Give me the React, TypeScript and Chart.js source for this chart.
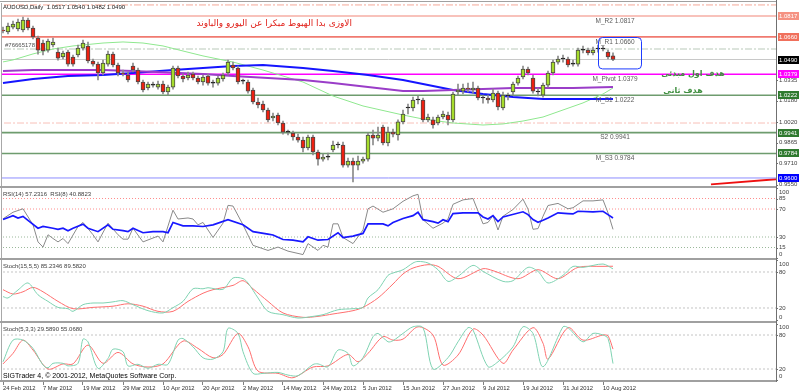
import React, { useEffect, useRef } from 'react';
import { Chart, registerables } from 'chart.js';

Chart.register(...registerables);

// ---------------- DATA ----------------
const dateLabels = ['24 Feb 2012', '7 Mar 2012', '19 Mar 2012', '29 Mar 2012', '10 Apr 2012', '20 Apr 2012', '2 May 2012', '14 May 2012', '24 May 2012', '5 Jun 2012', '15 Jun 2012', '27 Jun 2012', '9 Jul 2012', '19 Jul 2012', '31 Jul 2012', '10 Aug 2012'];
const dateLabelStep = 8;

const opens = [1.0712, 1.0697, 1.0734, 1.0719, 1.0712, 1.0787, 1.0727, 1.0652, 1.0614, 1.0561, 1.0599, 1.0546, 1.0509, 1.0546, 1.0509, 1.0524, 1.0576, 1.0591, 1.0479, 1.0456, 1.0389, 1.0456, 1.0531, 1.0449, 1.0389, 1.0374, 1.0441, 1.0411, 1.0321, 1.0276, 1.0298, 1.0283, 1.0306, 1.0246, 1.0283, 1.0426, 1.0366, 1.0351, 1.0381, 1.0351, 1.0321, 1.0366, 1.0313, 1.0313, 1.0344, 1.0389, 1.0449, 1.0426, 1.0328, 1.0321, 1.0261, 1.0171, 1.0156, 1.0111, 1.0051, 1.0073, 1.0013, 0.9945, 0.9938, 0.9908, 0.9885, 0.9825, 0.9908, 0.9795, 0.9742, 0.9757, 0.9810, 0.9848, 0.9848, 0.9697, 0.9727, 0.9697, 0.9727, 0.9742, 0.9923, 0.9900, 0.9983, 0.9863, 0.9945, 0.9923, 1.0021, 1.0126, 1.0126, 1.0186, 1.0186, 1.0036, 1.0036, 1.0013, 1.0058, 1.0073, 1.0036, 1.0246, 1.0253, 1.0276, 1.0261, 1.0276, 1.0201, 1.0201, 1.0186, 1.0238, 1.0126, 1.0216, 1.0246, 1.0313, 1.0359, 1.0419, 1.0351, 1.0246, 1.0223, 1.0298, 1.0389, 1.0471, 1.0494, 1.0494, 1.0456, 1.0456, 1.0561, 1.0561, 1.0539, 1.0569, 1.0569, 1.0546, 1.0517];
const highs = [1.0734, 1.0764, 1.0779, 1.0794, 1.0809, 1.0802, 1.0742, 1.0667, 1.0636, 1.0644, 1.0652, 1.0576, 1.0554, 1.0561, 1.0524, 1.0599, 1.0636, 1.0621, 1.0494, 1.0471, 1.0486, 1.0554, 1.0546, 1.0464, 1.0411, 1.0396, 1.0464, 1.0426, 1.0336, 1.0321, 1.0321, 1.0328, 1.0328, 1.0298, 1.0441, 1.0441, 1.0381, 1.0396, 1.0396, 1.0366, 1.0374, 1.0381, 1.0336, 1.0366, 1.0389, 1.0486, 1.0471, 1.0441, 1.0344, 1.0336, 1.0276, 1.0201, 1.0178, 1.0126, 1.0088, 1.0088, 1.0028, 0.9960, 0.9953, 0.9930, 0.9908, 0.9923, 0.9923, 0.9810, 0.9780, 0.9788, 0.9878, 0.9870, 0.9870, 0.9750, 0.9750, 0.9765, 0.9757, 0.9938, 0.9960, 0.9983, 0.9998, 0.9983, 0.9968, 1.0036, 1.0111, 1.0156, 1.0208, 1.0216, 1.0201, 1.0081, 1.0058, 1.0073, 1.0103, 1.0096, 1.0246, 1.0306, 1.0306, 1.0313, 1.0321, 1.0291, 1.0223, 1.0223, 1.0268, 1.0253, 1.0246, 1.0238, 1.0321, 1.0366, 1.0441, 1.0434, 1.0374, 1.0276, 1.0313, 1.0404, 1.0486, 1.0516, 1.0524, 1.0509, 1.0486, 1.0576, 1.0591, 1.0576, 1.0584, 1.0599, 1.0591, 1.0561, 1.0540];
const lows = [1.0689, 1.0682, 1.0719, 1.0704, 1.0697, 1.0712, 1.0644, 1.0531, 1.0524, 1.0546, 1.0584, 1.0486, 1.0494, 1.0441, 1.0441, 1.0509, 1.0561, 1.0464, 1.0441, 1.0336, 1.0374, 1.0441, 1.0434, 1.0366, 1.0366, 1.0321, 1.0396, 1.0306, 1.0246, 1.0261, 1.0283, 1.0268, 1.0231, 1.0223, 1.0268, 1.0351, 1.0321, 1.0336, 1.0336, 1.0306, 1.0298, 1.0298, 1.0283, 1.0298, 1.0328, 1.0374, 1.0411, 1.0306, 1.0306, 1.0238, 1.0156, 1.0126, 1.0096, 1.0021, 1.0028, 0.9998, 0.9930, 0.9923, 0.9885, 0.9870, 0.9795, 0.9810, 0.9773, 0.9697, 0.9727, 0.9735, 0.9795, 0.9825, 0.9682, 0.9682, 0.9570, 0.9660, 0.9712, 0.9727, 0.9848, 0.9878, 0.9848, 0.9840, 0.9908, 0.9885, 1.0006, 1.0081, 1.0103, 1.0156, 1.0021, 1.0021, 0.9975, 0.9998, 1.0043, 0.9998, 1.0021, 1.0223, 1.0231, 1.0246, 1.0238, 1.0186, 1.0163, 1.0163, 1.0171, 1.0111, 1.0111, 1.0186, 1.0223, 1.0298, 1.0344, 1.0374, 1.0238, 1.0216, 1.0208, 1.0283, 1.0374, 1.0456, 1.0471, 1.0434, 1.0441, 1.0441, 1.0539, 1.0524, 1.0524, 1.0546, 1.0554, 1.0494, 1.0482];
const closes = [1.0704, 1.0742, 1.0757, 1.0772, 1.0787, 1.0727, 1.0659, 1.0561, 1.0554, 1.0629, 1.0621, 1.0501, 1.0539, 1.0456, 1.0456, 1.0576, 1.0614, 1.0479, 1.0456, 1.0389, 1.0464, 1.0531, 1.0449, 1.0389, 1.0381, 1.0336, 1.0411, 1.0321, 1.0261, 1.0306, 1.0298, 1.0306, 1.0246, 1.0283, 1.0426, 1.0366, 1.0344, 1.0374, 1.0351, 1.0321, 1.0359, 1.0313, 1.0313, 1.0351, 1.0374, 1.0471, 1.0426, 1.0321, 1.0328, 1.0253, 1.0171, 1.0148, 1.0111, 1.0036, 1.0066, 1.0013, 0.9945, 0.9945, 0.9908, 0.9885, 0.9825, 0.9908, 0.9795, 0.9742, 0.9757, 0.9757, 0.9848, 0.9848, 0.9697, 0.9727, 0.9697, 0.9727, 0.9742, 0.9923, 0.9900, 0.9923, 0.9863, 0.9945, 0.9930, 1.0021, 1.0081, 1.0126, 1.0186, 1.0186, 1.0036, 1.0058, 0.9998, 1.0058, 1.0081, 1.0036, 1.0231, 1.0261, 1.0276, 1.0268, 1.0276, 1.0201, 1.0201, 1.0186, 1.0238, 1.0133, 1.0223, 1.0216, 1.0306, 1.0351, 1.0419, 1.0389, 1.0253, 1.0246, 1.0298, 1.0389, 1.0471, 1.0494, 1.0494, 1.0449, 1.0456, 1.0561, 1.0561, 1.0539, 1.0561, 1.0569, 1.0569, 1.0509, 1.0490];

// moving averages: [bar index, price]
const greenMA: [number, number][] = [[0, 1.0472], [2, 1.0487], [6, 1.0532], [10, 1.0569], [14, 1.0592], [20, 1.0614], [24, 1.0622], [28, 1.0614], [32, 1.0592], [36, 1.0554], [40, 1.0517], [46, 1.0471], [52, 1.0411], [60, 1.0321], [66, 1.0216], [72, 1.0141], [80, 1.0073], [84, 1.0043], [90, 1.0013], [96, 0.9998], [100, 1.0006], [104, 1.0028], [108, 1.0058], [112, 1.0111], [116, 1.0164], [120, 1.0231], [122, 1.0276]];
const blueMA: [number, number][] = [[0, 1.0314], [6, 1.0344], [13, 1.0366], [20, 1.0374], [26, 1.0389], [34, 1.0411], [40, 1.0426], [46, 1.0441], [52, 1.0449], [60, 1.0426], [66, 1.0404], [73, 1.0374], [80, 1.0336], [84, 1.0306], [90, 1.0261], [96, 1.0231], [102, 1.0208], [108, 1.0194], [122, 1.0194]];
const purpleMA: [number, number][] = [[0, 1.0404], [6, 1.0411], [20, 1.0411], [26, 1.0404], [40, 1.0381], [46, 1.0366], [53, 1.0351], [60, 1.0336], [66, 1.0314], [73, 1.0284], [80, 1.0254], [84, 1.0254], [90, 1.0261], [96, 1.0269], [102, 1.0276], [108, 1.0276], [114, 1.0276], [122, 1.0284]];
const redTrend: [number, number][] = [[141.6, 0.9552], [156, 0.9595]];

// pivot levels
const levelNames = ['M_R2', 'M_R1', 'M_Pivot', 'M_S1', 'S2', 'M_S3'];
const levelValues = [1.0817, 1.0660, 1.0379, 1.0222, 0.9941, 0.9784];
const levelColors = ['#f6aea5', '#f07a70', '#ff00ff', '#6e9c6e', '#6e9c6e', '#6e9c6e'];
const currentPrice = 1.0490;
const supportLine = 0.9600;
const dashDotLevels = [1.0900, 1.0569, 1.0013];
const dashDotColors = ['#f4a898', '#b9c9b9', '#f8c0b8'];

// right-axis price tags
const tagValues = [1.0817, 1.0660, 1.0490, 1.0379, 1.0222, 0.9941, 0.9784, 0.9600];
const tagColors = ['#f59282', '#f0705c', '#000000', '#ff00ff', '#2f7a2f', '#2f7a2f', '#2f7a2f', '#0000ff'];

const mainTicks = [1.0335, 1.0180, 1.0020, 0.9865, 0.9710, 0.9550];
const rsiTicks = [100, 85, 70, 30, 15, 0];
const stochTicks = [100, 80, 20, 0];
const rsiHighLevels = [85, 70];
const rsiLowLevels = [30, 15];
const stochLevels = [80, 20];

const rsi14: [number, number][] = [[0, 55], [2, 60.5], [3, 57], [4, 59.5], [5, 53.7], [7, 42.5], [8, 45], [10, 42.5], [11, 41], [12, 42.5], [13, 39], [14, 42.5], [16, 48.4], [17, 42.5], [19, 37.6], [21, 47.4], [22, 41], [24, 39], [25, 37.6], [26, 42.5], [28, 36.1], [30, 37.6], [32, 37.6], [33, 36.1], [34, 50.8], [36, 45.9], [38, 45.9], [40, 45], [42, 47.4], [45, 54.7], [48, 47.4], [50, 37.6], [53, 34.2], [54, 32.8], [56, 26.4], [58, 25.4], [60, 23], [61, 30.3], [63, 25.4], [65, 26.4], [67, 36.1], [68, 29.3], [70, 31.3], [72, 35.1], [73, 48.8], [76, 48.8], [77, 45.9], [78, 50.8], [80, 56.5], [82, 60.5], [83, 65.4], [84, 54.7], [86, 52], [87, 49.8], [88, 54.7], [89, 52], [90, 63.5], [92, 64.5], [95, 64.5], [96, 58.6], [97, 55.7], [98, 60.5], [99, 52], [100, 58.6], [104, 66], [105, 62], [106, 55], [107, 51], [108, 54], [109, 57.2], [111, 64.5], [113, 63.5], [114, 63], [115, 66.8], [118, 66], [120, 66.8], [121, 62], [122, 57.2]];
const rsi8: [number, number][] = [[0, 56], [2, 65.4], [4, 70.3], [6, 47.4], [7, 23], [8, 15.6], [9, 33.2], [10, 27.9], [11, 23], [12, 27.9], [13, 20.6], [15, 45], [16, 50.8], [18, 33.2], [19, 23], [21, 49.8], [23, 33.2], [24, 26.9], [25, 26.9], [26, 42.5], [28, 23], [31, 31.3], [32, 23], [34, 68.3], [35, 55.7], [37, 57.2], [38, 55.7], [39, 47.4], [40, 50.8], [42, 29.3], [44, 49.8], [45, 75.2], [46, 74.2], [48, 47.4], [50, 18.1], [53, 10.8], [55, 15.6], [57, 9.8], [60, 4.9], [61, 20.6], [63, 10.8], [64, 18.1], [65, 15.6], [66, 48.8], [67, 48.8], [68, 29.3], [70, 20.6], [72, 40], [73, 70.3], [74, 74.2], [76, 65.4], [78, 70.3], [80, 81], [82, 88.8], [83, 91], [84, 54.7], [86, 42.5], [88, 49.8], [89, 55.7], [90, 76.7], [92, 83], [94, 85], [96, 48.8], [97, 50.8], [98, 60.5], [99, 40], [100, 59.6], [102, 69.3], [104, 84], [105, 70], [106, 41], [107, 42], [108, 59.6], [109, 75], [111, 78], [113, 70.3], [114, 71.8], [116, 81.6], [118, 81.6], [120, 83], [121, 64.5], [122, 40.9]];

const stoch1K: [number, number][] = [[0, 39], [1, 36.7], [3, 50], [5, 61.7], [7, 42], [9, 31], [11, 21], [13, 18.8], [14, 14.4], [16, 25.5], [18, 28.3], [20, 28.3], [22, 30.2], [24, 32.2], [26, 25.5], [29, 15.5], [32, 11.7], [34, 20.5], [36, 31], [38, 52], [40, 52], [41, 53.8], [44, 51.2], [46, 70], [48, 69], [49, 61.7], [51, 36.7], [53, 14.4], [56, 8.8], [59, 3.3], [62, 6], [64, 8.8], [67, 17], [70, 18.8], [72, 21], [73, 36.7], [75, 50.5], [77, 74.4], [78, 78.3], [80, 83.8], [82, 95], [83, 97.6], [85, 95], [87, 83.8], [89, 64.4], [91, 72.7], [94, 91], [96, 81], [100, 64.4], [102, 65.5], [105, 87.7], [107, 81], [109, 61.7], [112, 74.4], [114, 89.3], [116, 87.7], [120, 93.3], [122, 85.2]];
const stoch1D: [number, number][] = [[0, 50.5], [2, 43.3], [4, 47], [6, 54.3], [8, 47], [11, 31], [14, 18.8], [18, 21], [22, 23], [25, 27], [28, 23], [31, 14.4], [34, 14.4], [37, 31], [40, 44.6], [42, 50.5], [46, 57.7], [48, 65.5], [50, 52], [53, 31], [56, 11.7], [60, 4.4], [63, 6], [66, 10], [70, 15.5], [72, 21], [75, 36.7], [78, 60], [80, 76.7], [82, 86.6], [85, 92.2], [87, 89.4], [91, 68.8], [96, 85.5], [98, 82.2], [103, 68.8], [107, 83.8], [111, 68.8], [115, 87.7], [120, 89.4], [122, 89.6]];
const stoch2K: [number, number][] = [[0, 32.8], [2, 71], [4, 71], [6, 56.4], [8, 27], [9, 22.2], [10, 30], [12, 30], [13, 25.5], [15, 30], [16, 72.8], [17, 68], [19, 21], [21, 38.7], [22, 55], [24, 50.5], [25, 25.5], [27, 28.3], [29, 21.3], [31, 28.3], [33, 28.3], [35, 71], [36, 73.8], [38, 59.2], [40, 39.8], [42, 37.5], [44, 50.5], [45, 91.7], [47, 83], [48, 50.5], [50, 12.3], [52, 12.3], [55, 14], [57, 9.3], [59, 8.2], [62, 27.9], [63, 29], [65, 24], [67, 53.4], [69, 47.6], [70, 25.5], [72, 40], [74, 77], [75, 82.8], [77, 68], [78, 70], [80, 82.8], [82, 94.5], [84, 93], [86, 20], [89, 40], [91, 68], [93, 93], [94, 88.8], [97, 24], [99, 32.8], [102, 59.2], [104, 94.5], [106, 82.8], [108, 24], [112, 94.5], [113, 93], [116, 68], [118, 82.8], [120, 80], [121, 74], [122, 29.6]];
const stoch2D: [number, number][] = [[0, 29], [2, 47.6], [4, 71], [6, 53.4], [9, 20], [12, 29], [14, 29], [17, 62.3], [20, 30], [23, 49.3], [26, 29], [29, 23.5], [32, 29], [36, 69.3], [39, 56.4], [42, 39.8], [44, 45.7], [47, 82.8], [49, 59.2], [51, 16.4], [55, 12.3], [58, 4.6], [62, 23.5], [65, 25.5], [69, 45.7], [71, 32.8], [73, 47.6], [76, 77], [78, 71], [80, 72.8], [83, 94.5], [86, 80], [88, 27], [91, 44.6], [94, 90.5], [96, 80], [100, 30], [102, 53.4], [106, 93], [108, 65.5], [109, 37.5], [113, 93], [116, 71], [120, 80], [121, 78.5], [122, 55.1]];

// texts and annotation anchors (bar index, price)
const headerText = 'AUDUSD,Daily';
const accountText = '#76665178';
const arabicTitle = 'الاوزى بدا الهبوط مبكرا عن اليورو والباوند';
const arabicTarget1 = 'هدف اول مبدئى';
const arabicTarget2 = 'هدف ثانى';
const rsiTitle = 'RSI(14) 57.2316  RSI(8) 40.8823';
const stoch1Title = 'Stoch(15,5,5) 85.2346 89.5820';
const stoch2Title = 'Stoch(5,3,3) 29.5890 55.0680';
const copyrightText = 'SIGTrader 4, © 2001-2012, MetaQuotes Software Corp.';
const levelLabelIndex = 122.4;
const arabicTitleAnchor: [number, number] = [69.8, 1.0757];
const target1Anchor: [number, number] = [138, 1.0384];
const target2Anchor: [number, number] = [136, 1.0253];
const accountAnchor: [number, number] = [0.4, 1.0599];
const boxIndexRange = [119, 127.6];
const boxPriceRange = [1.0662, 1.0426];

// ---------------- LAYOUT / STYLE ----------------
const X_MIN = -0.4;
const X_MAX = 154.6;
const AXIS_W = 24;
const FONT = '"Liberation Sans", Arial, sans-serif';
const AR_FONT = '"DejaVu Sans", sans-serif';

const toXY = (arr: [number, number][]) => arr.map(([x, y]) => ({ x, y }));
const hLine = (v: number) => [{ x: X_MIN - 2, y: v }, { x: X_MAX + 2, y: v }];
const lineDs = (data: any[], color: string, width: number, extra: any = {}) => ({
  type: 'line', data, borderColor: color, borderWidth: width, pointRadius: 0, fill: false, tension: 0, ...extra,
});

function drawFrame(chart: any, topBand: number, bottomBand: number) {
  const { ctx, chartArea: a } = chart;
  ctx.save();
  ctx.fillStyle = '#a0a0a0';
  if (topBand > 0) ctx.fillRect(0, a.top - topBand, a.right + 1, topBand);
  if (bottomBand > 0) ctx.fillRect(0, a.bottom, a.right + 1, bottomBand);
  ctx.fillStyle = '#a8a8a8';
  ctx.fillRect(1, a.top, 1, a.bottom - a.top);
  ctx.fillStyle = '#707070';
  ctx.fillRect(Math.round(a.right), 0, 1, a.bottom + bottomBand);
  ctx.restore();
}

function drawRightAxis(chart: any, ticks: number[], digits: number, clamp: boolean) {
  const { ctx, chartArea: a } = chart;
  const ys = chart.scales.y;
  ctx.save();
  ctx.font = `6px ${FONT}`;
  ctx.fillStyle = '#404040';
  ctx.strokeStyle = '#707070';
  ctx.lineWidth = 1;
  ctx.textBaseline = 'middle';
  ctx.textAlign = 'left';
  ticks.forEach((t) => {
    const py = ys.getPixelForValue(t);
    const ly = clamp ? Math.min(Math.max(py, a.top + 4), a.bottom - 4) : py;
    ctx.beginPath();
    ctx.moveTo(a.right, Math.round(py) + 0.5);
    ctx.lineTo(a.right + 2, Math.round(py) + 0.5);
    ctx.stroke();
    ctx.fillText(t.toFixed(digits), a.right + 3, ly);
  });
  ctx.restore();
}

function drawTitle(chart: any, text: string, y: number) {
  const { ctx } = chart;
  ctx.save();
  ctx.font = `6px ${FONT}`;
  ctx.fillStyle = '#404040';
  ctx.textBaseline = 'middle';
  ctx.textAlign = 'left';
  ctx.fillText(text, 3, y);
  ctx.restore();
}

const candleColor = (i: number) => (closes[i] > opens[i] ? '#a6dc2c' : closes[i] < opens[i] ? '#ee2010' : '#202020');

function mainConfig(): any {
  const datasets: any[] = [];
  dashDotLevels.forEach((v, k) => datasets.push(lineDs(hLine(v), dashDotColors[k], 1, { borderDash: [7, 2, 2, 2], order: 12 })));
  levelValues.forEach((v, k) => datasets.push(lineDs(hLine(v), levelColors[k], 1.6, { order: 11 })));
  datasets.push(lineDs(hLine(currentPrice), '#c8c8c8', 1, { order: 11 }));
  datasets.push(lineDs(hLine(supportLine), '#8c8cff', 1, { order: 11 }));
  datasets.push(lineDs(toXY(redTrend), '#ee1010', 2, { order: 11 }));
  datasets.push(lineDs(toXY(greenMA), '#8fe88f', 1, { order: 6 }));
  datasets.push(lineDs(toXY(purpleMA), '#9a3dc8', 2, { order: 5 }));
  datasets.push(lineDs(toXY(blueMA), '#1515ff', 2, { order: 5 }));
  datasets.push({
    type: 'bar', order: 2, grouped: false, barThickness: 1,
    data: opens.map((_, i) => ({ x: i, y: [lows[i], highs[i]] })),
    backgroundColor: '#8a8a8a', borderWidth: 0,
  });
  datasets.push({
    type: 'bar', order: 1, grouped: false, barThickness: 4, minBarLength: 1,
    data: opens.map((o, i) => ({ x: i, y: [o, closes[i]] })),
    backgroundColor: opens.map((_, i) => candleColor(i)),
    borderColor: opens.map((_, i) => (closes[i] === opens[i] ? '#202020' : '#4a4a4a')),
    borderWidth: 1, borderSkipped: false,
  });

  const plugin = {
    id: 'mainDecor',
    afterDatasetsDraw(chart: any) {
      const { ctx, scales } = chart;
      const xs = scales.x;
      const ys = scales.y;
      ctx.save();
      // level labels
      ctx.font = `6.5px ${FONT}`;
      ctx.fillStyle = '#5a5a5a';
      ctx.textAlign = 'center';
      ctx.textBaseline = 'middle';
      levelNames.forEach((n, k) => {
        ctx.fillText(`${n} ${levelValues[k].toFixed(4)}`, xs.getPixelForValue(levelLabelIndex), ys.getPixelForValue(levelValues[k]) + 5);
      });
      // blue rounded box
      const bx0 = xs.getPixelForValue(boxIndexRange[0]);
      const bx1 = xs.getPixelForValue(boxIndexRange[1]);
      const by0 = ys.getPixelForValue(boxPriceRange[0]);
      const by1 = ys.getPixelForValue(boxPriceRange[1]);
      ctx.strokeStyle = '#1e3cff';
      ctx.lineWidth = 1;
      ctx.beginPath();
      (ctx as any).roundRect(Math.round(bx0) + 0.5, Math.round(by0) + 0.5, bx1 - bx0, by1 - by0, 4);
      ctx.stroke();
      // header
      ctx.font = `6px ${FONT}`;
      ctx.fillStyle = '#202020';
      ctx.textAlign = 'left';
      const last = opens.length - 1;
      ctx.fillText(`${headerText}  ${opens[last].toFixed(4)} ${highs[last].toFixed(4)} ${lows[last].toFixed(4)} ${closes[last].toFixed(4)}`, 3, 7);
      ctx.fillStyle = '#505050';
      ctx.fillText(accountText, xs.getPixelForValue(accountAnchor[0]), ys.getPixelForValue(accountAnchor[1]));
      // arabic texts
      ctx.font = `9px ${AR_FONT}`;
      ctx.fillStyle = '#e0201a';
      ctx.textAlign = 'right';
      ctx.fillText(arabicTitle, xs.getPixelForValue(arabicTitleAnchor[0]), ys.getPixelForValue(arabicTitleAnchor[1]));
      ctx.font = `bold 8px ${AR_FONT}`;
      ctx.fillStyle = '#3f8f3f';
      ctx.textAlign = 'center';
      ctx.fillText(arabicTarget1, xs.getPixelForValue(target1Anchor[0]), ys.getPixelForValue(target1Anchor[1]));
      ctx.fillText(arabicTarget2, xs.getPixelForValue(target2Anchor[0]), ys.getPixelForValue(target2Anchor[1]));
      ctx.restore();
    },
    afterDraw(chart: any) {
      const { ctx, chartArea: a } = chart;
      const ys = chart.scales.y;
      ctx.save();
      ctx.fillStyle = '#a0a0a0';
      ctx.fillRect(0, 1, a.right + 1, 1);
      ctx.restore();
      drawFrame(chart, 0, 0);
      drawRightAxis(chart, mainTicks, 4, false);
      ctx.save();
      ctx.font = `6px ${FONT}`;
      ctx.textBaseline = 'middle';
      ctx.textAlign = 'left';
      tagValues.forEach((v, k) => {
        const py = Math.round(ys.getPixelForValue(v));
        ctx.fillStyle = tagColors[k];
        ctx.fillRect(a.right + 2, py - 4, 21, 8);
        ctx.fillStyle = '#ffffff';
        ctx.fillText(v.toFixed(4), a.right + 3, py + 0.5);
      });
      ctx.restore();
    },
  };

  return {
    type: 'bar',
    data: { datasets },
    options: {
      animation: false, responsive: false, events: [],
      layout: { padding: { top: 3, bottom: 0, left: 1, right: AXIS_W } },
      plugins: { legend: { display: false }, tooltip: { enabled: false } },
      scales: {
        x: { type: 'linear', min: X_MIN, max: X_MAX, display: false, offset: false },
        y: { type: 'linear', min: 0.953977, max: 1.091467, display: false },
      },
    },
    plugins: [plugin],
  };
}

function indicatorConfig(p: {
  datasets: any[]; min: number; max: number; padTop: number; padBottom: number; ticks: number[];
  title: string; showX: boolean; bottomBand: number; extra?: (chart: any) => void;
}): any {
  const plugin = {
    id: 'indDecor',
    afterDraw(chart: any) {
      drawFrame(chart, 2, p.bottomBand);
      drawRightAxis(chart, p.ticks, 0, true);
      drawTitle(chart, p.title, 8);
      if (p.extra) p.extra(chart);
    },
  };
  const x: any = p.showX
    ? {
        type: 'linear', min: X_MIN, max: X_MAX, offset: false, position: 'bottom',
        afterBuildTicks: (s: any) => { s.ticks = dateLabels.map((_, k) => ({ value: k * dateLabelStep })); },
        afterFit: (s: any) => { s.height = 12; s.paddingLeft = 0; s.paddingRight = 0; },
        grid: { display: true, drawOnChartArea: false, drawTicks: true, tickLength: 5, color: '#808080' },
        border: { display: false },
        ticks: {
          autoSkip: false, maxRotation: 0, minRotation: 0, align: 'start', padding: 0,
          font: { size: 5.8, family: FONT }, color: '#303030',
          callback: (_v: any, idx: number) => dateLabels[idx],
        },
      }
    : { type: 'linear', min: X_MIN, max: X_MAX, display: false, offset: false };
  return {
    type: 'line',
    data: { datasets: p.datasets },
    options: {
      animation: false, responsive: false, events: [],
      layout: { padding: { top: p.padTop, bottom: p.padBottom, left: 1, right: AXIS_W } },
      plugins: { legend: { display: false }, tooltip: { enabled: false } },
      scales: { x, y: { type: 'linear', min: p.min, max: p.max, display: false } },
    },
    plugins: [plugin],
  };
}

function rsiConfig() {
  const ds: any[] = [];
  rsiHighLevels.forEach((v) => ds.push(lineDs(hLine(v), '#ff8c8c', 1, { borderDash: [1, 2], order: 10 })));
  rsiLowLevels.forEach((v) => ds.push(lineDs(hLine(v), '#9ab89a', 1, { borderDash: [1, 2], order: 10 })));
  ds.push(lineDs(toXY(rsi8), '#8a8a8a', 1, { order: 3 }));
  ds.push(lineDs(toXY(rsi14), '#1818ff', 1.7, { order: 2 }));
  return indicatorConfig({ datasets: ds, min: 0, max: 100, padTop: 2, padBottom: 1, ticks: rsiTicks, title: rsiTitle, showX: false, bottomBand: 0 });
}

function stochDatasets(k: [number, number][], d: [number, number][]) {
  const ds: any[] = [];
  stochLevels.forEach((v) => ds.push(lineDs(hLine(v), '#c4c4c4', 1, { borderDash: [2, 2], order: 10 })));
  ds.push(lineDs(toXY(d), '#ff6e6e', 1, { order: 3, tension: 0.3 }));
  ds.push(lineDs(toXY(k), '#7fd3b2', 1, { order: 2, tension: 0.3 }));
  return ds;
}

function stoch1Config() {
  return indicatorConfig({ datasets: stochDatasets(stoch1K, stoch1D), min: -1.7, max: 100, padTop: 2, padBottom: 0, ticks: stochTicks, title: stoch1Title, showX: false, bottomBand: 0 });
}

function stoch2Config() {
  return indicatorConfig({
    datasets: stochDatasets(stoch2K, stoch2D), min: 0.6, max: 101.2, padTop: 2, padBottom: 0, ticks: stochTicks,
    title: stoch2Title, showX: true, bottomBand: 2,
    extra: (chart: any) => {
      const { ctx, chartArea: a } = chart;
      ctx.save();
      ctx.font = `7px ${FONT}`;
      ctx.fillStyle = '#000000';
      ctx.textBaseline = 'middle';
      ctx.textAlign = 'left';
      ctx.fillText(copyrightText, 3, a.bottom - 4);
      ctx.restore();
    },
  });
}

export default function App() {
  const mainRef = useRef<HTMLCanvasElement>(null);
  const rsiRef = useRef<HTMLCanvasElement>(null);
  const s1Ref = useRef<HTMLCanvasElement>(null);
  const s2Ref = useRef<HTMLCanvasElement>(null);

  useEffect(() => {
    const charts: Chart[] = [];
    if (mainRef.current) charts.push(new Chart(mainRef.current, mainConfig()));
    if (rsiRef.current) charts.push(new Chart(rsiRef.current, rsiConfig()));
    if (s1Ref.current) charts.push(new Chart(s1Ref.current, stoch1Config()));
    if (s2Ref.current) charts.push(new Chart(s2Ref.current, stoch2Config()));
    return () => charts.forEach((c) => c.destroy());
  }, []);

  const cv = (top: number, height: number): React.CSSProperties => ({ position: 'absolute', left: 0, top, width: 800, height });

  return (
    <div style={{ position: 'fixed', left: 0, top: 0, width: 800, height: 392, background: '#ffffff', overflow: 'hidden' }}>
      <canvas ref={mainRef} width={800} height={186} style={cv(0, 186)} />
      <canvas ref={rsiRef} width={800} height={73} style={cv(186, 73)} />
      <canvas ref={s1Ref} width={800} height={63} style={cv(258, 63)} />
      <canvas ref={s2Ref} width={800} height={71} style={cv(321, 71)} />
    </div>
  );
}
